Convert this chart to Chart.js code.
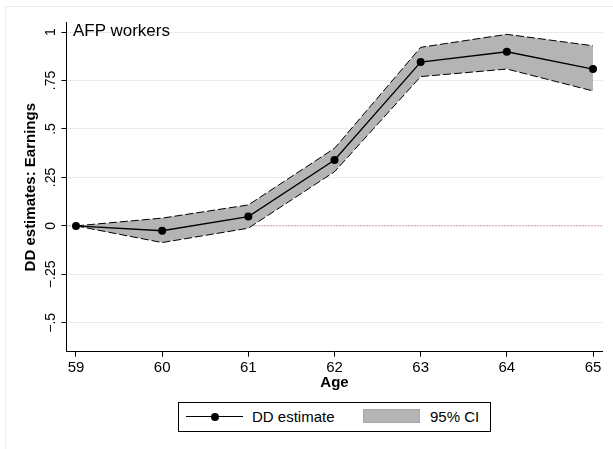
<!DOCTYPE html>
<html>
<head>
<meta charset="utf-8">
<script src="https://cdn.jsdelivr.net/npm/chart.js@4"></script>
<style>
  html, body { margin: 0; padding: 0; background: #fff; overflow: hidden; }
  #wrap { position: relative; width: 613px; height: 449px; font-family: "Liberation Sans", Arial, sans-serif; }
  #frame { position: absolute; left: 5px; top: 6px; width: 700px; height: 600px; border: 1px solid #e8eff1; }
  canvas { position: absolute; left: 0; top: 0; }
  #title { position: absolute; left: 73px; top: 21px; font-size: 17px; color: #000; }
  #legend { position: absolute; left: 178px; top: 402px; width: 311px; height: 28px; border: 1px solid #000; background: #fff; }
  .lg { position: absolute; }
</style>
</head>
<body>
<div id="wrap">
  <div id="frame"></div>
  <canvas id="myChart" width="613" height="449"></canvas>
  <div id="title">AFP workers</div>
  <div id="legend">
    <div class="lg" style="left:7px; top:13px; width:57px; height:1.3px; background:#000;"></div>
    <div class="lg" style="left:32px; top:9.5px; width:8px; height:8px; border-radius:50%; background:#000;"></div>
    <div class="lg" style="left:73px; top:5px; font-size:15px;">DD estimate</div>
    <div class="lg" style="left:184px; top:6px; width:57px; height:14px; background:#b4b4b4; border:1px solid #a6a6a6; box-sizing:border-box;"></div>
    <div class="lg" style="left:251px; top:5px; font-size:15px;">95% CI</div>
  </div>
</div>
<script>
// data
const ages = [59, 60, 61, 62, 63, 64, 65];
const ddEstimate = [0, -0.025, 0.048, 0.340, 0.845, 0.898, 0.809];
const ciUpper = [0, 0.040, 0.108, 0.400, 0.921, 0.988, 0.929];
const ciLower = [0, -0.086, -0.012, 0.279, 0.770, 0.809, 0.696];
const refLine = 0;

const xTicks = [59, 60, 61, 62, 63, 64, 65];
const yTicks = [-0.5, -0.25, 0, 0.25, 0.5, 0.75, 1];
const yTickLabels = ['\u2212.5', '\u2212.25', '0', '.25', '.5', '.75', '1'];

const xMin = 58.89, xMax = 65.11;
const yMin = -0.649, yMax = 1.048;

const pts = (ys) => ages.map((a, i) => ({ x: a, y: ys[i] }));
const font = 'Liberation Sans, Arial, sans-serif';

const data = {
  datasets: [
    {
      label: 'DD estimate',
      data: pts(ddEstimate),
      borderColor: '#000',
      backgroundColor: '#000',
      borderWidth: 1.3,
      pointRadius: 4,
      pointBackgroundColor: '#000',
      pointBorderWidth: 0,
      tension: 0,
      order: 0
    },
    {
      label: '95% CI',
      data: pts(ciUpper),
      borderColor: '#000',
      borderWidth: 1,
      borderDash: [8, 3],
      pointRadius: 0,
      fill: '+1',
      backgroundColor: '#b4b4b4',
      tension: 0,
      order: 2
    },
    {
      label: 'lower',
      data: pts(ciLower),
      borderColor: '#000',
      borderWidth: 1,
      borderDash: [8, 3],
      pointRadius: 0,
      fill: false,
      tension: 0,
      order: 1
    },
    {
      label: 'zero',
      data: [{ x: xMin, y: refLine }, { x: xMax, y: refLine }],
      borderColor: 'rgba(210, 70, 100, 0.9)',
      borderWidth: 1,
      borderDash: [1, 2],
      pointRadius: 0,
      fill: false,
      order: 3
    }
  ]
};

new Chart(document.getElementById('myChart').getContext('2d'), {
  type: 'line',
  data: data,
  options: {
    responsive: false,
    animation: false,
    events: [],
    layout: { padding: { left: 0, top: 22.7, right: 10.5, bottom: 0 } },
    plugins: { legend: { display: false }, tooltip: { enabled: false } },
    scales: {
      x: {
        type: 'linear',
        min: xMin,
        max: xMax,
        afterBuildTicks: (s) => { s.ticks = xTicks.map(v => ({ value: v })); },
        afterFit: (s) => { s.height = 97.3; },
        grid: { drawOnChartArea: false, drawTicks: true, tickLength: 5, tickColor: '#000' },
        border: { display: true, color: '#000', width: 1 },
        ticks: { color: '#000', font: { family: font, size: 15 }, padding: 2, maxRotation: 0, autoSkip: false },
        title: { display: true, text: 'Age', color: '#000', font: { family: font, size: 15, weight: 'bold' }, padding: { top: 0, bottom: 57 } }
      },
      y: {
        type: 'linear',
        min: yMin,
        max: yMax,
        afterBuildTicks: (s) => { s.ticks = yTicks.map(v => ({ value: v })); },
        afterFit: (s) => { s.width = 66.5; },
        grid: { color: '#e3ecef', lineWidth: 1, drawTicks: true, tickLength: 5, tickColor: '#000' },
        border: { display: true, color: '#000', width: 1 },
        ticks: {
          color: '#000', font: { family: font, size: 14 }, padding: -3,
          minRotation: 90, maxRotation: 90, crossAlign: 'center', autoSkip: false,
          callback: (v) => yTickLabels[yTicks.indexOf(v)]
        },
        title: { display: true, text: 'DD estimates: Earnings', color: '#000', font: { family: font, size: 15, weight: 'bold' }, padding: { top: 22, bottom: 0 } }
      }
    }
  }
});
</script>
</body>
</html>
